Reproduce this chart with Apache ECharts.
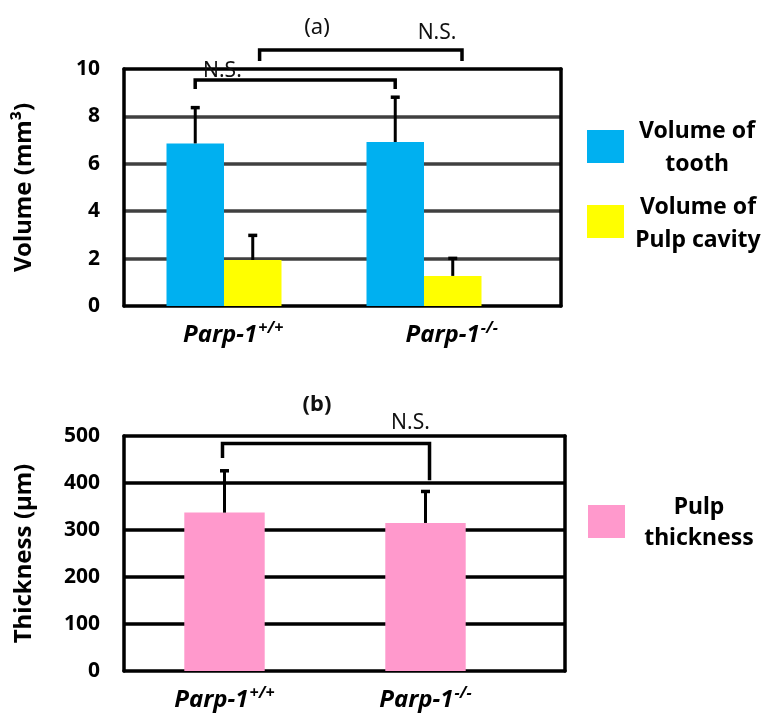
<!DOCTYPE html>
<html>
<head>
<meta charset="utf-8">
<script src="https://cdn.jsdelivr.net/npm/echarts@6/dist/echarts.min.js"></script>
<style>html,body{margin:0;padding:0;background:#fff}#c{width:765px;height:713px}</style>
</head>
<body>
<div id="c"></div>
<script>
// ---- data ----
const categories = ['Parp-1+/+', 'Parp-1-/-'];
const supLabels = ['+/+', '-/-'];
const toothVolume = [6.86, 6.92];
const toothVolumeSD = [1.51, 1.89];
const pulpCavityVolume = [1.94, 1.27];
const pulpCavitySD = [1.04, 0.74];
const pulpThickness = [337, 315];
const pulpThicknessSD = [89, 67];
const volumeTicks = [0, 2, 4, 6, 8, 10];
const thicknessTicks = [0, 100, 200, 300, 400, 500];
// brackets: [cat1, offset1, cat2, offset2, yTop, yLeftEnd, yRightEnd]
const volumeBrackets = [[0, -0.144, 1, -0.144, 9.54, 9.16, 9.16], [0, 0.178, 1, 0.19, 10.8, 10.34, 10.34]];
const volumeNSLabels = [[0, -0.008, 9.92], [1, 0.065, 11.5]];
const thicknessBrackets = [[0, -0.01, 1, 0.02, 484, 453, 406]];
const thicknessNSLabels = [[1, -0.075, 528]];

const FONT = '"Noto Sans"';
const C_BLUE = '#00B0F0', C_YELLOW = '#FFFF00', C_PINK = '#FF99CC';

const chart = echarts.init(document.getElementById('c'));

function errorBarSeries(xi, yi, values, sds, offFrac) {
  return {
    type: 'custom', xAxisIndex: xi, yAxisIndex: yi, z: 5, clip: false,
    data: values.map((v, i) => [i, v, sds[i]]),
    encode: { x: 0, y: 1 },
    renderItem: function (params, api) {
      const band = api.size([1, 0])[0];
      const p0 = api.coord([api.value(0), api.value(1)]);
      const p1 = api.coord([api.value(0), api.value(1) + api.value(2)]);
      const x = p0[0] + offFrac * band;
      return { type: 'group', children: [
        { type: 'line', shape: { x1: x, y1: p0[1], x2: x, y2: p1[1] }, style: { stroke: '#000', lineWidth: 3 } },
        { type: 'line', shape: { x1: x - 4.5, y1: p1[1], x2: x + 4.5, y2: p1[1] }, style: { stroke: '#000', lineWidth: 3.5 } }
      ] };
    }
  };
}
function bracketSeries(xi, yi, data) {
  return {
    type: 'custom', xAxisIndex: xi, yAxisIndex: yi, z: 6, clip: false,
    data: data, encode: { x: 0, y: 4 },
    renderItem: function (params, api) {
      const band = api.size([1, 0])[0];
      const xa = api.coord([api.value(0), 0])[0] + api.value(1) * band;
      const xb = api.coord([api.value(2), 0])[0] + api.value(3) * band;
      const yt = api.coord([0, api.value(4)])[1];
      const ya = api.coord([0, api.value(5)])[1];
      const yb = api.coord([0, api.value(6)])[1];
      return { type: 'polyline', shape: { points: [[xa, ya], [xa, yt], [xb, yt], [xb, yb]] },
        style: { stroke: '#000', lineWidth: 3.5, fill: null } };
    }
  };
}
function nsSeries(xi, yi, data) {
  return {
    type: 'custom', xAxisIndex: xi, yAxisIndex: yi, z: 1, clip: false,
    data: data, encode: { x: 0, y: 2 },
    renderItem: function (params, api) {
      const band = api.size([1, 0])[0];
      const x = api.coord([api.value(0), 0])[0] + api.value(1) * band;
      const y = api.coord([0, api.value(2)])[1];
      return { type: 'text', x: x, y: y, style: { text: 'N.S.', fill: '#111', font: '21px ' + FONT, align: 'center', verticalAlign: 'middle' } };
    }
  };
}

const rich = {
  a: { fontFamily: FONT, fontWeight: 'bold', fontStyle: 'italic', fontSize: 24, color: '#000', lineHeight: 30, verticalAlign: 'middle' },
  b: { fontFamily: FONT, fontWeight: 'bold', fontStyle: 'italic', fontSize: 16, color: '#000', lineHeight: 18, verticalAlign: 'top', padding: [0, 0, 0, 1] }
};
const catFormatter = (v, i) => '{a|Parp-1}{b|' + supLabels[i] + '}';

const yLabel = { fontFamily: FONT, fontWeight: 'bold', fontSize: 21, color: '#000', margin: 24 };
const yName = { fontFamily: FONT, fontWeight: 'bold', fontSize: 24, color: '#000' };
const frameLine = () => ({ show: true, onZero: false, lineStyle: { color: '#000', width: 3.5 } });

function frameYAxes(gi, ticks, name, splitColor) {
  const min = ticks[0], max = ticks[ticks.length - 1];
  return [
    { type: 'value', gridIndex: gi, position: 'left', min: min, max: max, interval: ticks[1] - ticks[0],
      name: name, nameLocation: 'middle', nameRotate: 90, nameGap: 88, nameTextStyle: yName,
      axisLine: frameLine(), axisTick: { show: false }, axisLabel: yLabel,
      splitLine: { show: true, showMinLine: false, showMaxLine: false, lineStyle: { color: splitColor, width: 3.5 } } },
    { type: 'value', gridIndex: gi, position: 'right', min: min, max: max, interval: ticks[1] - ticks[0],
      axisLine: frameLine(), axisTick: { show: false }, axisLabel: { show: false }, splitLine: { show: false } }
  ];
}
const fTop = frameYAxes(0, volumeTicks, 'Volume (mm³)', '#404040');
const fBot = frameYAxes(2, thicknessTicks, 'Thickness (µm)', '#000');

chart.setOption({
  animation: false,
  grid: [
    { left: 124, top: 69, width: 437, height: 237 },
    { left: 124, top: 69, width: 400, height: 237 },
    { left: 124, top: 436, width: 441, height: 235 },
    { left: 124, top: 436, width: 402, height: 235 }
  ],
  xAxis: [
    { type: 'category', gridIndex: 0, position: 'bottom', data: categories, axisTick: { show: false },
      axisLine: frameLine(), axisLabel: { formatter: catFormatter, rich: rich, margin: 14 } },
    { type: 'category', gridIndex: 0, position: 'top', data: categories, axisTick: { show: false },
      axisLine: frameLine(), axisLabel: { show: false } },
    { type: 'category', gridIndex: 1, data: categories, show: false },
    { type: 'category', gridIndex: 2, position: 'bottom', data: categories, axisTick: { show: false },
      axisLine: frameLine(), axisLabel: { show: false } },
    { type: 'category', gridIndex: 2, position: 'top', data: categories, axisTick: { show: false },
      axisLine: frameLine(), axisLabel: { show: false } },
    { type: 'category', gridIndex: 3, data: categories, axisTick: { show: false },
      axisLine: { show: false }, axisLabel: { formatter: catFormatter, rich: rich, margin: 14 } }
  ],
  yAxis: [
    fTop[0], fTop[1],
    { type: 'value', gridIndex: 1, min: volumeTicks[0], max: volumeTicks[volumeTicks.length - 1], show: false, splitLine: { show: false } },
    fBot[0], fBot[1],
    { type: 'value', gridIndex: 3, min: thicknessTicks[0], max: thicknessTicks[thicknessTicks.length - 1], show: false, splitLine: { show: false } }
  ],
  series: [
    { name: 'Volume of tooth', type: 'bar', xAxisIndex: 2, yAxisIndex: 2, data: toothVolume,
      itemStyle: { color: C_BLUE }, barCategoryGap: '42.5%', barGap: '0%' },
    { name: 'Volume of Pulp cavity', type: 'bar', xAxisIndex: 2, yAxisIndex: 2, data: pulpCavityVolume,
      itemStyle: { color: C_YELLOW }, barCategoryGap: '42.5%', barGap: '0%' },
    errorBarSeries(2, 2, toothVolume, toothVolumeSD, -0.14375),
    errorBarSeries(2, 2, pulpCavityVolume, pulpCavitySD, 0.14375),
    bracketSeries(2, 2, volumeBrackets),
    nsSeries(2, 2, volumeNSLabels),
    { name: 'Pulp thickness', type: 'bar', xAxisIndex: 5, yAxisIndex: 5, data: pulpThickness,
      itemStyle: { color: C_PINK }, barCategoryGap: '60%' },
    errorBarSeries(5, 5, pulpThickness, pulpThicknessSD, 0),
    bracketSeries(5, 5, thicknessBrackets),
    nsSeries(5, 5, thicknessNSLabels)
  ],
  graphic: [
    { type: 'text', x: 317, y: 28, style: { text: '(a)', font: '22px ' + FONT, fill: '#111', align: 'center', verticalAlign: 'middle' } },
    { type: 'text', x: 317, y: 405, style: { text: '(b)', font: 'bold 22px ' + FONT, fill: '#111', align: 'center', verticalAlign: 'middle' } },
    { type: 'rect', shape: { x: 587, y: 130, width: 37, height: 33 }, style: { fill: C_BLUE } },
    { type: 'text', x: 697, y: 147.5, style: { text: 'Volume of\ntooth', font: 'bold 23px ' + FONT, lineHeight: 33, fill: '#000', align: 'center', verticalAlign: 'middle' } },
    { type: 'rect', shape: { x: 587, y: 205, width: 37, height: 33 }, style: { fill: C_YELLOW } },
    { type: 'text', x: 698, y: 223.5, style: { text: 'Volume of\nPulp cavity', font: 'bold 23px ' + FONT, lineHeight: 33, fill: '#000', align: 'center', verticalAlign: 'middle' } },
    { type: 'rect', shape: { x: 588, y: 505, width: 37, height: 33 }, style: { fill: C_PINK } },
    { type: 'text', x: 699, y: 522.5, style: { text: 'Pulp\nthickness', font: 'bold 23px ' + FONT, lineHeight: 31, fill: '#000', align: 'center', verticalAlign: 'middle' } }
  ]
});
</script>
</body>
</html>
